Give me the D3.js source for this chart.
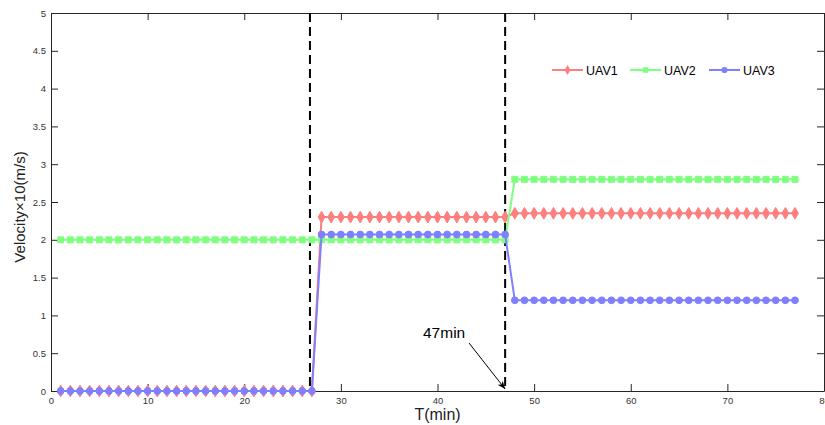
<!DOCTYPE html>
<html>
<head>
<meta charset="utf-8">
<script src="https://cdn.jsdelivr.net/npm/d3@7"></script>
<style>
  body { margin: 0; background: #fff; }
  svg { font-family: Arial, "Liberation Sans", sans-serif; }
</style>
</head>
<body>
<svg id="canvas" width="825" height="425"></svg>
<script>
// time steps (min)
const T = d3.range(1, 78);

// velocity levels per phase (x10 m/s)
const uav1Levels = [0, 2.3, 2.35];
const uav2Levels = [2.0, 2.0, 2.8];
const uav3Levels = [0, 2.07, 1.2];
const switchTimes = [27, 47];
// where the dashed marker lines sit
const dashTimes = [26.8, 47];

const xTicks = [0, 10, 20, 30, 40, 50, 60, 70, 80];
const yTicks = [0, 0.5, 1, 1.5, 2, 2.5, 3, 3.5, 4, 4.5, 5];

function phaseValue(levels, t) {
  if (t <= switchTimes[0]) return levels[0];
  if (t <= switchTimes[1]) return levels[1];
  return levels[2];
}

const series = [
  {name: "UAV1", color: "#ff7f7f", symbol: d3.symbolDiamond, levels: uav1Levels},
  {name: "UAV2", color: "#7fff7f", symbol: d3.symbolSquare, levels: uav2Levels},
  {name: "UAV3", color: "#7f7fff", symbol: d3.symbolCircle, levels: uav3Levels}
];
series.forEach(s => s.values = T.map(t => ({t: t, v: phaseValue(s.levels, t)})));

const margin = {left: 51, top: 13, right: 1, bottom: 34};
const width = 825, height = 425;

const svg = d3.select("#canvas");

const x = d3.scaleLinear().domain([0, 80]).range([margin.left, width - margin.right]);
const y = d3.scaleLinear().domain([0, 5]).range([height - margin.bottom, margin.top]);

const axisColor = "#262626";
const tickLen = 7;
const fmt = d => String(d);

// axes (MATLAB style, ticks inside, box)
const gx = svg.append("g").attr("transform", "translate(0," + y(0) + ")")
  .call(d3.axisBottom(x).tickValues(xTicks).tickFormat(fmt).tickSize(-tickLen).tickPadding(6).tickSizeOuter(0));
const gxTop = svg.append("g").attr("transform", "translate(0," + y(5) + ")")
  .call(d3.axisTop(x).tickValues(xTicks).tickSize(-tickLen).tickFormat("").tickSizeOuter(0));
const gy = svg.append("g").attr("transform", "translate(" + x(0) + ",0)")
  .call(d3.axisLeft(y).tickValues(yTicks).tickFormat(fmt).tickSize(-tickLen).tickPadding(5).tickSizeOuter(0));
const gyRight = svg.append("g").attr("transform", "translate(" + x(80) + ",0)")
  .call(d3.axisRight(y).tickValues(yTicks).tickSize(-tickLen).tickFormat("").tickSizeOuter(0));

[gx, gxTop, gy, gyRight].forEach(g => {
  g.select(".domain").attr("stroke", axisColor).attr("stroke-width", 1);
  g.selectAll(".tick line").attr("stroke", axisColor);
  g.selectAll(".tick text").attr("fill", "#333").style("font-size", "9.5px").style("font-family", "Arial, 'Liberation Sans', sans-serif");
});

// dashed switch lines
svg.selectAll(".switch")
  .data(dashTimes)
  .enter().append("line")
  .attr("class", "switch")
  .attr("x1", d => x(d)).attr("x2", d => x(d))
  .attr("y1", y(5)).attr("y2", y(0))
  .attr("stroke", "#000").attr("stroke-width", 2)
  .attr("stroke-dasharray", "9,5");

const line = d3.line().x(d => x(d.t)).y(d => y(d.v));

series.forEach(s => {
  const g = svg.append("g");
  g.append("path")
    .datum(s.values)
    .attr("d", line)
    .attr("fill", "none")
    .attr("stroke", s.color)
    .attr("stroke-width", 2);
  g.selectAll("path.mk")
    .data(s.values)
    .enter().append("path")
    .attr("class", "mk")
    .attr("transform", d => "translate(" + x(d.t) + "," + y(d.v) + ")")
    .attr("d", d3.symbol().type(s.symbol).size(s.symbol === d3.symbolDiamond ? 40 : 36))
    .attr("fill", s.color)
    .attr("stroke", s.color)
    .attr("stroke-width", 1);
});

// legend
const legend = svg.append("g").attr("transform", "translate(552,70)");
const legX = [0, 78, 157];
series.forEach((s, i) => {
  const lg = legend.append("g").attr("transform", "translate(" + legX[i] + ",0)");
  lg.append("line").attr("x1", 0).attr("x2", 31).attr("y1", 0).attr("y2", 0)
    .attr("stroke", s.color).attr("stroke-width", 2);
  lg.append("path").attr("transform", "translate(15.5,0)")
    .attr("d", d3.symbol().type(s.symbol).size(30))
    .attr("fill", s.color);
  lg.append("text").attr("x", 34).attr("y", 5)
    .style("font-size", "12.5px").attr("fill", "#000").text(s.name);
});

// annotation
svg.append("defs").append("marker")
  .attr("id", "arrow").attr("viewBox", "0 0 10 10")
  .attr("refX", 10).attr("refY", 5)
  .attr("markerWidth", 8).attr("markerHeight", 8)
  .attr("orient", "auto-start-reverse")
  .append("path").attr("d", "M0,1 L10,5 L0,9 L3,5 z").attr("fill", "#000");

svg.append("line")
  .attr("x1", 469).attr("y1", 343)
  .attr("x2", x(47)).attr("y2", y(0) - 2)
  .attr("stroke", "#000").attr("stroke-width", 1)
  .attr("marker-end", "url(#arrow)");

svg.append("text").attr("x", 423).attr("y", 338)
  .style("font-size", "15.5px").text("47min");

// axis labels
svg.append("text")
  .attr("x", x(40)).attr("y", 420)
  .attr("text-anchor", "middle")
  .style("font-size", "16px").attr("fill", "#222")
  .text("T(min)");

svg.append("text")
  .attr("transform", "translate(25,207) rotate(-90)")
  .attr("text-anchor", "middle")
  .style("font-size", "15px").attr("fill", "#222")
  .text("Velocity×10(m/s)");
</script>
</body>
</html>
